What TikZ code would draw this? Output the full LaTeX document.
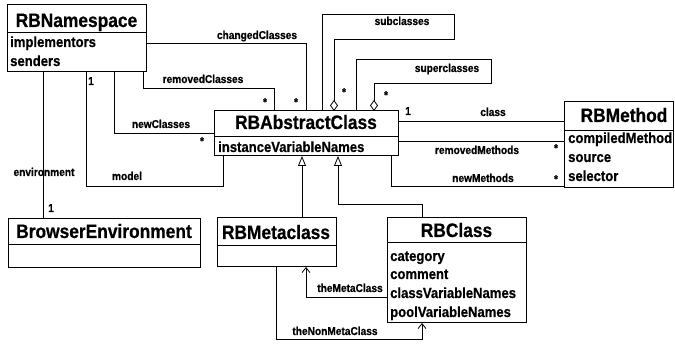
\documentclass[tikz,border=0pt]{standalone}
\usepackage{fontspec}
\setmainfont{Liberation Sans}[FakeStretch=0.89, BoldFeatures={FakeBold=0.6}]
\usetikzlibrary{arrows.meta}
\tikzset{
  cbox/.style={draw, line width=1pt, inner sep=0pt, outer sep=0pt, anchor=north west},
  sepline/.style={line width=1pt},
  ttl/.style={anchor=base, inner sep=0pt, font=\bfseries\fontsize{19.5}{20}\selectfont},
  attr/.style={anchor=base west, inner sep=0pt, font=\bfseries\fontsize{14.7}{15}\selectfont},
  lbl/.style={anchor=base, inner sep=0pt, font=\bfseries\fontsize{11.4}{12}\selectfont},
  mult/.style={anchor=center, inner sep=0pt, font=\bfseries\fontsize{11}{12}\selectfont},
  conn/.style={line width=0.8pt},
  agg/.style={conn, {Diamond[open,length=11pt,width=8pt,line width=0.8pt]}-},
  gen/.style={conn, -{Triangle[open,length=10pt,width=8pt,line width=0.8pt]}},
  nav/.style={conn, -{Straight Barb[length=5pt,width=8pt,line width=0.8pt]}}
}
\begin{document}
\begin{tikzpicture}[x=1pt,y=-1pt]
\fill[white] (0,0) rectangle (675,344);
\useasboundingbox (0,0) rectangle (675,344);

% RBNamespace
\node[cbox, minimum width=139pt, minimum height=67pt] (ns) at (7,5) {};
\draw[sepline] (ns.west |- 0,33) -- (ns.east |- 0,33);
\node[ttl] (nst) at (76.5,27) {RBNamespace};
\node[attr] (ns1) at (10,47) {implementors};
\node[attr] (ns2) at (10,66) {senders};

% RBAbstractClass
\node[cbox, minimum width=184pt, minimum height=45pt] (ac) at (214,111) {};
\draw[sepline] (ac.west |- 0,137) -- (ac.east |- 0,137);
\node[ttl] (act) at (306,129) {RBAbstractClass};
\node[attr] (ac1) at (218,152) {instanceVariableNames};

% RBMethod
\node[cbox, minimum width=109pt, minimum height=86pt] (me) at (564,102) {};
\draw[sepline] (me.west |- 0,131) -- (me.east |- 0,131);
\node[ttl] (met) at (624,122) {RBMethod};
\node[attr] (me1) at (568,143) {compiledMethod};
\node[attr] (me2) at (568,162) {source};
\node[attr] (me3) at (568,181) {selector};

% BrowserEnvironment
\node[cbox, minimum width=192pt, minimum height=49pt] (be) at (8,219) {};
\draw[sepline] (be.west |- 0,245) -- (be.east |- 0,245);
\node[ttl] (bet) at (104,238) {BrowserEnvironment};

% RBMetaclass
\node[cbox, minimum width=119pt, minimum height=49pt] (mc) at (217,218) {};
\draw[sepline] (mc.west |- 0,246) -- (mc.east |- 0,246);
\node[ttl] (mct) at (276,239) {RBMetaclass};

% RBClass
\node[cbox, minimum width=139pt, minimum height=105pt] (cl) at (387,218) {};
\draw[sepline] (cl.west |- 0,243) -- (cl.east |- 0,243);
\node[ttl] (clt) at (456.5,237) {RBClass};
\node[attr] (cl1) at (390,261) {category};
\node[attr] (cl2) at (390,279) {comment};
\node[attr] (cl3) at (390,298) {classVariableNames};
\node[attr] (cl4) at (390,317) {poolVariableNames};

% environment
\draw[conn] (ns.south -| 43,0) -- (be.north -| 43,0);
\node[lbl] (lenv) at (44,176) {environment};
\node[lbl] (menv) at (51,212) {1};

% model
\draw[conn] (ns.south -| 86,0) |- (223,186) -- (ac.south -| 223,0);
\node[lbl] (lmod) at (127,180) {model};
\node[lbl] (mmod) at (91,85) {1};

% newClasses
\draw[conn] (ns.south -| 114,0) |- (ac.west |- 0,133);
\node[lbl] (lnew) at (161,128) {newClasses};
\node[mult] (mnew) at (202,141) {*};

% removedClasses
\draw[conn] (ns.south -| 143,0) |- (274,88) -- (ac.north -| 274,0);
\node[lbl] (lrem) at (203,83) {removedClasses};
\node[mult] (mrem) at (265,102) {*};

% changedClasses
\draw[conn] (ns.east |- 0,43) -| (ac.north -| 306,0);
\node[lbl] (lchg) at (257,39) {changedClasses};
\node[mult] (mchg) at (296,102) {*};

% subclasses
\draw[agg] (ac.north -| 334,0) |- (454,39) |- (322,14) -- (ac.north -| 322,0);
\node[lbl] (lsub) at (402,25) {subclasses};
\node[mult] (msub) at (344,92) {*};

% superclasses
\draw[agg] (ac.north -| 374,0) |- (491,83) |- (356,59) -- (ac.north -| 356,0);
\node[lbl] (lsup) at (447,72) {superclasses};
\node[mult] (msup) at (386,95) {*};

% class
\draw[conn] (ac.east |- 0,121) -- (me.west |- 0,121);
\node[lbl] (lcls) at (493,116) {class};
\node[lbl] (mcls) at (408,115) {1};

% removedMethods
\draw[conn] (ac.east |- 0,141) -- (me.west |- 0,141);
\node[lbl] (lrm) at (477,154) {removedMethods};
\node[mult] (mrm) at (556,148) {*};

% newMethods
\draw[conn] (ac.south -| 391,0) |- (me.west |- 0,186);
\node[lbl] (lnm) at (483,182) {newMethods};
\node[mult] (mnm) at (556,179) {*};

% generalizations
\draw[gen] (mc.north -| 302,0) -- (ac.south -| 302,0);
\draw[gen] (cl.north -| 422,0) |- (338,204) -- (ac.south -| 338,0);

% theMetaClass
\draw[nav] (cl.west |- 0,297) -| (mc.south -| 306,0);
\node[lbl] (lmeta) at (350,292) {theMetaClass};

% theNonMetaClass
\draw[nav] (mc.south -| 276,0) |- (422,339) -- (cl.south -| 422,0);
\node[lbl] (lnon) at (335,335) {theNonMetaClass};
\end{tikzpicture}
\end{document}
